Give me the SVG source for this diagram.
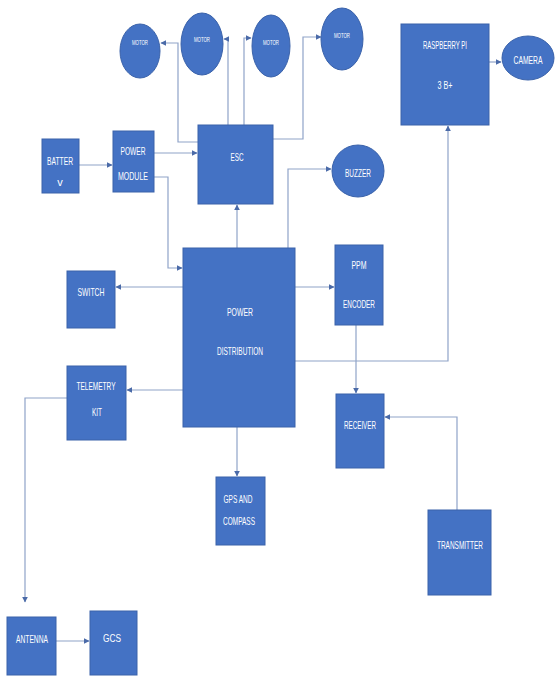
<svg xmlns="http://www.w3.org/2000/svg" width="556" height="678" viewBox="0 0 556 678">
<defs>
<marker id="ah" viewBox="0 0 10 10" refX="9" refY="5" markerWidth="6" markerHeight="6" orient="auto" markerUnits="userSpaceOnUse">
<path d="M0,0 L10,5 L0,10 z" fill="#4a6aa8"/>
</marker>
<style>
.n{fill:#4472c4;stroke:#3a62aa;stroke-width:1}
.t{fill:#ffffff;font-family:"Liberation Sans",Arial,sans-serif;font-size:11px;text-anchor:middle;dominant-baseline:central}
.s{font-size:7px}
.c{fill:none;stroke:#8fa3c8;stroke-width:1.2;marker-end:url(#ah)}
</style>
</defs>
<rect width="556" height="678" fill="#ffffff"/>
<g id="connectors">
<path class="c" d="M198,142 H178 V43 H161"/>
<path class="c" d="M228,125 V39 H224"/>
<path class="c" d="M244,125 V38 H251"/>
<path class="c" d="M273,139 H303 V37 H321"/>
<path class="c" d="M79,165 H112"/>
<path class="c" d="M154,153 H197"/>
<path class="c" d="M154,177 H168 V268 H182"/>
<path class="c" d="M237,248 V205"/>
<path class="c" d="M288,248 V169 H331"/>
<path class="c" d="M183,287 H116"/>
<path class="c" d="M183,390 H127"/>
<path class="c" d="M295,287 H334"/>
<path class="c" d="M295,361 H448 V126"/>
<path class="c" d="M489,62 H501"/>
<path class="c" d="M356,325 V393"/>
<path class="c" d="M457,510 V417 H385"/>
<path class="c" d="M237,427 V476"/>
<path class="c" d="M67,398 H25 V602"/>
<path class="c" d="M56,641 H89"/>
</g>
<g id="motor1"><ellipse class="n" cx="140" cy="51" rx="20" ry="27"/><text class="t s" x="140" y="42" textLength="16" lengthAdjust="spacingAndGlyphs">MOTOR</text></g>
<g id="motor2"><ellipse class="n" cx="202" cy="44" rx="21" ry="31"/><text class="t s" x="202" y="39" textLength="16" lengthAdjust="spacingAndGlyphs">MOTOR</text></g>
<g id="motor3"><ellipse class="n" cx="271" cy="46" rx="19" ry="31"/><text class="t s" x="271" y="42" textLength="16" lengthAdjust="spacingAndGlyphs">MOTOR</text></g>
<g id="motor4"><ellipse class="n" cx="342" cy="39" rx="21" ry="31"/><text class="t s" x="342" y="35" textLength="16" lengthAdjust="spacingAndGlyphs">MOTOR</text></g>
<g id="raspberry"><rect class="n" x="401" y="24" width="88" height="101"/><text class="t" x="445" y="45" textLength="44" lengthAdjust="spacingAndGlyphs">RASPBERRY PI</text><text class="t" x="445" y="85" textLength="15" lengthAdjust="spacingAndGlyphs">3 B+</text></g>
<g id="camera"><ellipse class="n" cx="528" cy="58" rx="26" ry="22"/><text class="t" x="528" y="60" font-size="8.5" textLength="29" lengthAdjust="spacingAndGlyphs">CAMERA</text></g>
<g id="battery"><rect class="n" x="42" y="139" width="37" height="54"/><text class="t" x="60" y="161" textLength="26" lengthAdjust="spacingAndGlyphs">BATTER</text><text class="t" x="60" y="182">v</text></g>
<g id="powermodule"><rect class="n" x="113" y="131" width="41" height="61"/><text class="t" x="133" y="151" textLength="25" lengthAdjust="spacingAndGlyphs">POWER</text><text class="t" x="133" y="176" textLength="30" lengthAdjust="spacingAndGlyphs">MODULE</text></g>
<g id="esc"><rect class="n" x="198" y="125" width="75" height="79"/><text class="t" x="237" y="157" textLength="13" lengthAdjust="spacingAndGlyphs">ESC</text></g>
<g id="buzzer"><ellipse class="n" cx="358" cy="171" rx="26" ry="26"/><text class="t" x="358" y="173" textLength="26" lengthAdjust="spacingAndGlyphs">BUZZER</text></g>
<g id="powerdistribution"><rect class="n" x="183" y="248" width="112" height="179"/><text class="t" x="240" y="312" textLength="26" lengthAdjust="spacingAndGlyphs">POWER</text><text class="t" x="240" y="351" textLength="46" lengthAdjust="spacingAndGlyphs">DISTRIBUTION</text></g>
<g id="switch"><rect class="n" x="67" y="271" width="48" height="57"/><text class="t" x="91" y="292" textLength="27" lengthAdjust="spacingAndGlyphs">SWITCH</text></g>
<g id="ppm"><rect class="n" x="335" y="245" width="48" height="80"/><text class="t" x="359" y="265" textLength="15" lengthAdjust="spacingAndGlyphs">PPM</text><text class="t" x="359" y="304" textLength="32" lengthAdjust="spacingAndGlyphs">ENCODER</text></g>
<g id="telemetry"><rect class="n" x="67" y="366" width="59" height="74"/><text class="t" x="96" y="386" textLength="39" lengthAdjust="spacingAndGlyphs">TELEMETRY</text><text class="t" x="97" y="412" textLength="10" lengthAdjust="spacingAndGlyphs">KIT</text></g>
<g id="receiver"><rect class="n" x="336" y="394" width="48" height="74"/><text class="t" x="360" y="425" textLength="32" lengthAdjust="spacingAndGlyphs">RECEIVER</text></g>
<g id="gps"><rect class="n" x="216" y="477" width="49" height="68"/><text class="t" x="238" y="499" textLength="29" lengthAdjust="spacingAndGlyphs">GPS AND</text><text class="t" x="239" y="521" textLength="32" lengthAdjust="spacingAndGlyphs">COMPASS</text></g>
<g id="transmitter"><rect class="n" x="428" y="510" width="63" height="85"/><text class="t" x="460" y="545" textLength="46" lengthAdjust="spacingAndGlyphs">TRANSMITTER</text></g>
<g id="antenna"><rect class="n" x="7" y="617" width="49" height="58"/><text class="t" x="32" y="639" textLength="32" lengthAdjust="spacingAndGlyphs">ANTENNA</text></g>
<g id="gcs"><rect class="n" x="90" y="611" width="47" height="64"/><text class="t" x="112" y="638" textLength="18" lengthAdjust="spacingAndGlyphs">GCS</text></g>
</svg>
